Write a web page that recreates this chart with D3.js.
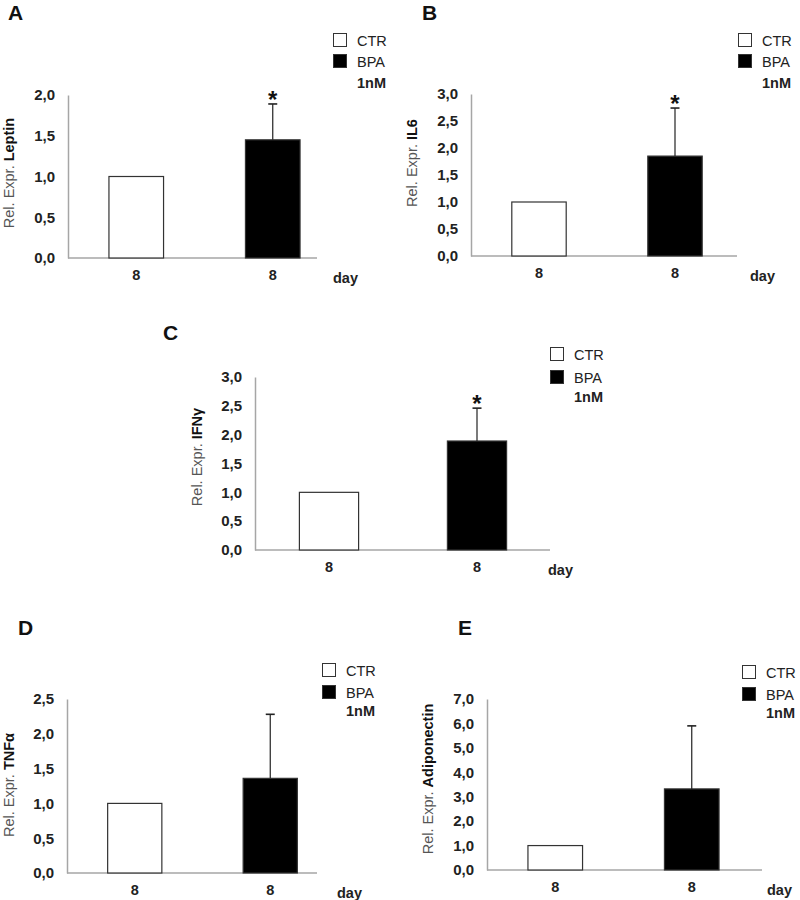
<!DOCTYPE html>
<html><head><meta charset="utf-8">
<script src="https://cdn.jsdelivr.net/npm/d3@7"></script>
<style>
html,body{margin:0;padding:0;background:#fff;}
svg{display:block;font-family:"Liberation Sans",Arial,sans-serif;}
</style></head>
<body>
<svg id="chart" width="800" height="900"></svg>
<script>
// ---- data ----
const panelLetters = ["A", "B", "C", "D", "E"];
const genes = ["Leptin", "IL6", "IFNγ", "TNFα", "Adiponectin"];
const groups = ["CTR", "BPA"];
const groupSub = ["", "1nM"];
const categoryLabels = ["8", "8"];
const xUnit = "day";
const ctrValues = [1.0, 1.0, 1.0, 1.0, 1.0];
const bpaValues = [1.45, 1.85, 1.89, 1.36, 3.32];
const bpaErrors = [0.44, 0.89, 0.57, 0.92, 2.58];
const significant = [true, true, true, false, false];
const yMax = [2.0, 3.0, 3.0, 2.5, 7.0];
const yStep = [0.5, 0.5, 0.5, 0.5, 1.0];

// ---- layout (positions only) ----
const layout = [
  {x0: 68,  x1: 317, yTop: 95,  yBot: 258, step: 136.5, lgX: 333, lgY: 33,  lgGap: [21, 42], letX: 8,   letY: 20,  tX: 9,   tY: 173, dayX: 333},
  {x0: 471, x1: 737, yTop: 94,  yBot: 256, step: 136,   lgX: 738, lgY: 33,  lgGap: [21, 42], letX: 422, letY: 20,  tX: 412, tY: 163, dayX: 750},
  {x0: 255, x1: 550, yTop: 377, yBot: 550, step: 148,   lgX: 550, lgY: 347, lgGap: [23, 42], letX: 163, letY: 340, tX: 197, tY: 457, dayX: 548},
  {x0: 67,  x1: 317, yTop: 699, yBot: 873, step: 135.5, lgX: 322, lgY: 663, lgGap: [22, 40], letX: 18,  letY: 635, tX: 9,   tY: 785, dayX: 337},
  {x0: 487, x1: 762, yTop: 699, yBot: 870, step: 136.5, lgX: 742, lgY: 665, lgGap: [22, 40], letX: 458, letY: 635, tX: 428, tY: 779, dayX: 767}
];

const svg = d3.select("#chart");
const locale = d3.formatLocale({decimal: ",", thousands: ".", grouping: [3], currency: ["", ""]});
const fmt = locale.format(".1f");
const axisColor = "#a6a6a6";
const textColor = "#222";
const FONT = "Liberation Sans, Arial, sans-serif";

panelLetters.forEach((letter, i) => {
  const L = layout[i];
  const g = svg.append("g");
  const y = d3.scaleLinear().domain([0, yMax[i]]).range([L.yBot, L.yTop]);
  const x = d3.scaleBand().domain([0, 1]).range([L.x0, L.x0 + 2 * L.step])
    .paddingInner(0.6).paddingOuter(0.3);
  const vals = [ctrValues[i], bpaValues[i]];

  // panel letter
  g.append("text").attr("x", L.letX).attr("y", L.letY)
    .attr("font-size", 21).attr("font-weight", "bold").attr("fill", "#111").text(letter);

  // y axis
  const ticks = d3.range(0, yMax[i] + yStep[i] / 2, yStep[i]);
  const yAxis = d3.axisLeft(y).tickValues(ticks).tickFormat(fmt).tickSize(0).tickPadding(13);
  const ya = g.append("g").attr("transform", `translate(${L.x0},0)`).call(yAxis);
  ya.select(".domain").attr("stroke", axisColor).attr("stroke-width", 1.5);
  ya.selectAll("text").attr("font-size", 15).attr("font-weight", "bold")
    .attr("fill", textColor).attr("font-family", FONT);

  // x axis
  const xAxis = d3.axisBottom(x).tickFormat(d => categoryLabels[d]).tickSize(0).tickPadding(12);
  const xa = g.append("g").attr("transform", `translate(0,${L.yBot})`).call(xAxis);
  xa.select(".domain").remove();
  xa.selectAll("text").attr("font-size", 14.5).attr("font-weight", "bold")
    .attr("fill", textColor).attr("font-family", FONT);
  g.append("line").attr("x1", L.x0).attr("x2", L.x1).attr("y1", L.yBot).attr("y2", L.yBot)
    .attr("stroke", axisColor).attr("stroke-width", 1.5);
  g.append("text").attr("x", L.dayX).attr("y", L.yBot + 25)
    .attr("font-size", 14.5).attr("font-weight", "bold").attr("fill", textColor).text(xUnit);

  // bars
  g.selectAll("rect.bar").data(vals).join("rect")
    .attr("class", "bar")
    .attr("x", (d, j) => x(j)).attr("width", x.bandwidth())
    .attr("y", d => y(d)).attr("height", d => y(0) - y(d))
    .attr("fill", (d, j) => j === 0 ? "#fff" : "#000")
    .attr("stroke", "#333").attr("stroke-width", 1.2);

  // error bar on BPA
  const cx = x(1) + x.bandwidth() / 2;
  const top = y(bpaValues[i] + bpaErrors[i]);
  g.append("line").attr("x1", cx).attr("x2", cx).attr("y1", y(bpaValues[i])).attr("y2", top)
    .attr("stroke", "#222").attr("stroke-width", 1.2);
  g.append("line").attr("x1", cx - 4.5).attr("x2", cx + 4.5).attr("y1", top).attr("y2", top)
    .attr("stroke", "#222").attr("stroke-width", 1.6);
  if (significant[i]) {
    g.append("text").attr("x", cx).attr("y", top + 4).attr("text-anchor", "middle")
      .attr("font-size", 24).attr("font-weight", "bold").attr("fill", "#111").text("*");
  }

  // y axis title
  const t = g.append("text").attr("transform", `translate(${L.tX + 5},${L.tY}) rotate(-90)`)
    .attr("text-anchor", "middle").attr("font-size", 14.5);
  t.append("tspan").attr("fill", "#555").text("Rel. Expr. ");
  t.append("tspan").attr("fill", "#111").attr("font-weight", "bold").text(genes[i]);

  // legend
  const lg = g.append("g");
  groups.forEach((name, j) => {
    const by = L.lgY + (j === 0 ? 0 : L.lgGap[0]);
    lg.append("rect").attr("x", L.lgX + 0.5).attr("y", by + 0.5).attr("width", 13).attr("height", 13)
      .attr("fill", j === 0 ? "#fff" : "#000").attr("stroke", "#333").attr("stroke-width", 1);
    lg.append("text").attr("x", L.lgX + 24).attr("y", by + 12.5)
      .attr("font-size", 14.5).attr("fill", textColor).text(name);
  });
  lg.append("text").attr("x", L.lgX + 24).attr("y", L.lgY + 12.5 + L.lgGap[1])
    .attr("font-size", 14.5).attr("font-weight", "bold").attr("fill", textColor).text(groupSub[1]);
});
</script>
</body></html>
